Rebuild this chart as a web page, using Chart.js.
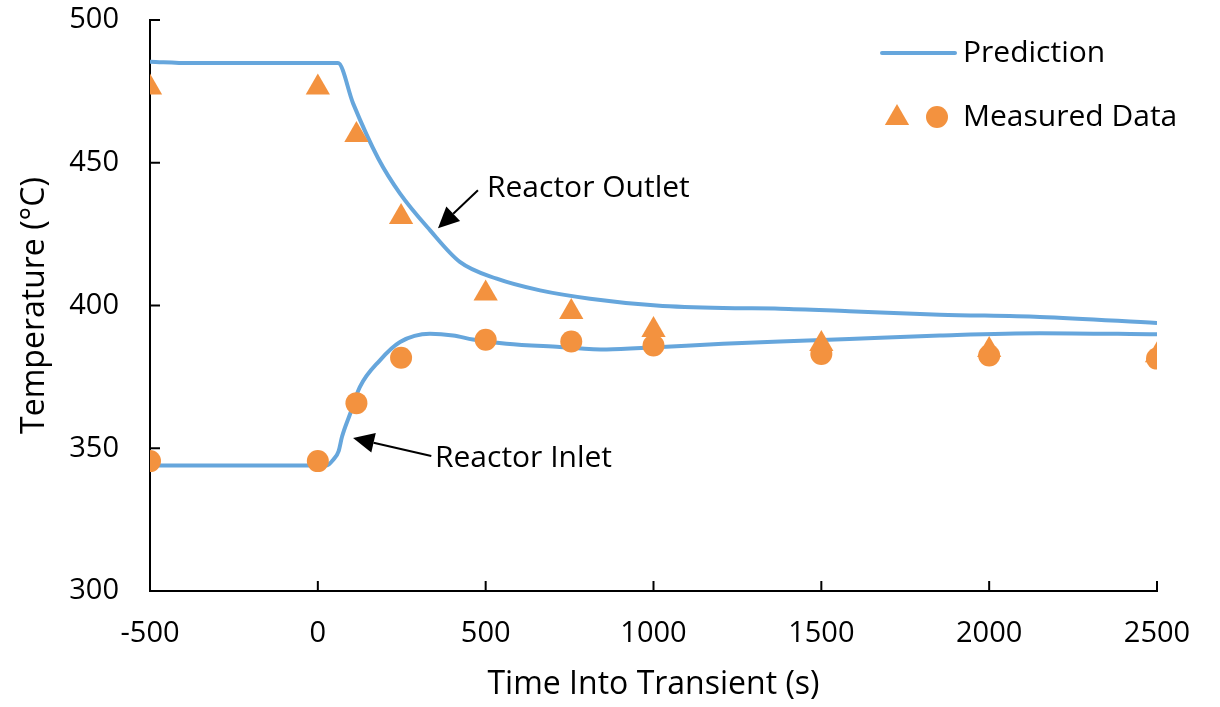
<!DOCTYPE html>
<html>
<head>
<meta charset="utf-8">
<script src="https://cdn.jsdelivr.net/npm/chart.js@4.4.0/dist/chart.umd.min.js"></script>
<style>
  html, body { margin: 0; padding: 0; background: #fff; }
  #wrap { width: 1220px; height: 707px; }
</style>
</head>
<body>
<div id="wrap"><canvas id="grafica"></canvas></div>
<script>
// prediction curves (time s, temperature C)
const outletTime = [-500, -380, 60, 105, 180, 245, 334, 423, 533, 662, 811, 1009, 1207, 1377, 1583, 1853, 2151, 2500];
const outletPred = [485.4, 484.9, 484.9, 470.8, 451.5, 439.2, 426.4, 415.3, 409.4, 405.3, 402.4, 400.0, 399.1, 398.9, 398.0, 396.8, 396.0, 393.9];

const inletTime = [-500, 26, 46, 62, 72, 96, 125, 185, 245, 334, 403, 462, 562, 721, 860, 1009, 1207, 1377, 1583, 1853, 2151, 2500];
const inletPred = [344.0, 344.0, 346.0, 349.0, 354.0, 362.0, 371.4, 380.8, 387.2, 390.1, 389.5, 388.1, 386.6, 385.5, 384.6, 385.4, 386.6, 387.4, 388.3, 389.5, 390.3, 389.9];

// measured points
const measTime = [-500, 0, 115, 248, 500, 755, 1000, 1500, 2000, 2500];
const measOutlet = [476.4, 476.4, 459.7, 431.0, 404.2, 397.7, 391.4, 386.5, 384.4, 382.6];
const measInlet = [345.5, 345.5, 365.8, 381.7, 388.0, 387.4, 386.0, 383.0, 382.5, 381.4];

const xTicks = [-500, 0, 500, 1000, 1500, 2000, 2500];
const yTicks = [300, 350, 400, 450, 500];

// arrows: [tailX, tailY, headX, headY] in data units, label at [x, y]
const notes = [
    { text: 'Reactor Outlet', tx: 504, ty: 441.1, arrow: [477, 440.4, 358, 427.1] },
    { text: 'Reactor Inlet', tx: 349, ty: 346.4, arrow: [338, 347.3, 105, 353.6] }
];

const azul = '#66a6dc';
const naranja = '#f3923f';
const fuente = "'Open Sans', 'Noto Sans', sans-serif";

function pares(xs, ys) {
    return xs.map((x, i) => ({ x: x, y: ys[i] }));
}

const extras = {
    id: 'extras',
    afterDatasetsDraw(chart) {
        const ctx = chart.ctx;
        const xs = chart.scales.x, ys = chart.scales.y;
        ctx.save();
        notes.forEach(n => {
            const x1 = xs.getPixelForValue(n.arrow[0]), y1 = ys.getPixelForValue(n.arrow[1]);
            const x2 = xs.getPixelForValue(n.arrow[2]), y2 = ys.getPixelForValue(n.arrow[3]);
            const ang = Math.atan2(y2 - y1, x2 - x1);
            const largo = 21, ancho = 10;
            const bx = x2 - Math.cos(ang) * largo, by = y2 - Math.sin(ang) * largo;
            ctx.strokeStyle = '#000';
            ctx.lineWidth = 2;
            ctx.beginPath();
            ctx.moveTo(x1, y1);
            ctx.lineTo(bx, by);
            ctx.stroke();
            ctx.fillStyle = '#000';
            ctx.beginPath();
            ctx.moveTo(x2, y2);
            ctx.lineTo(bx + Math.sin(ang) * ancho, by - Math.cos(ang) * ancho);
            ctx.lineTo(bx - Math.sin(ang) * ancho, by + Math.cos(ang) * ancho);
            ctx.closePath();
            ctx.fill();

            ctx.font = '30px ' + fuente;
            ctx.textAlign = 'left';
            ctx.textBaseline = 'middle';
            ctx.fillText(n.text, xs.getPixelForValue(n.tx), ys.getPixelForValue(n.ty));
        });
        ctx.restore();
    },
    afterDraw(chart) {
        const ctx = chart.ctx;
        const area = chart.chartArea;
        const xs = chart.scales.x, ys = chart.scales.y;
        ctx.save();
        // inner tick marks
        ctx.strokeStyle = '#000';
        ctx.lineWidth = 2;
        xTicks.forEach(v => {
            const px = xs.getPixelForValue(v);
            ctx.beginPath();
            ctx.moveTo(px, area.bottom);
            ctx.lineTo(px, area.bottom - 10);
            ctx.stroke();
        });
        yTicks.forEach(v => {
            const py = ys.getPixelForValue(v);
            ctx.beginPath();
            ctx.moveTo(area.left, py);
            ctx.lineTo(area.left + 10, py);
            ctx.stroke();
        });

        // legend
        const lx = area.left + 732;
        ctx.strokeStyle = azul;
        ctx.lineWidth = 4;
        ctx.lineCap = 'round';
        ctx.beginPath();
        ctx.moveTo(lx, 53);
        ctx.lineTo(lx + 73, 53);
        ctx.stroke();

        ctx.fillStyle = naranja;
        const tr = 14;
        ctx.beginPath();
        ctx.moveTo(lx + 15, 118 - tr);
        ctx.lineTo(lx + 15 + tr * 0.866, 118 + tr / 2);
        ctx.lineTo(lx + 15 - tr * 0.866, 118 + tr / 2);
        ctx.closePath();
        ctx.fill();
        ctx.beginPath();
        ctx.arc(lx + 55, 117, 11, 0, Math.PI * 2);
        ctx.fill();

        ctx.fillStyle = '#000';
        ctx.font = '30px ' + fuente;
        ctx.textAlign = 'left';
        ctx.textBaseline = 'middle';
        ctx.fillText('Prediction', lx + 81, 53);
        ctx.fillText('Measured Data', lx + 81, 117);
        ctx.restore();
    }
};

function main() {
    const ctx = document.getElementById('grafica').getContext('2d');

    const config = {
        type: 'scatter',
        data: {
            datasets: [
                {
                    label: 'Measured outlet',
                    data: pares(measTime, measOutlet),
                    pointStyle: 'triangle',
                    pointRadius: 14,
                    backgroundColor: naranja,
                    borderWidth: 0,
                    showLine: false,
                    order: 1
                },
                {
                    label: 'Measured inlet',
                    data: pares(measTime, measInlet),
                    pointStyle: 'circle',
                    pointRadius: 11,
                    backgroundColor: naranja,
                    borderWidth: 0,
                    showLine: false,
                    order: 1
                },
                {
                    label: 'Prediction outlet',
                    data: pares(outletTime, outletPred),
                    showLine: true,
                    borderColor: azul,
                    borderWidth: 4,
                    pointRadius: 0,
                    cubicInterpolationMode: 'monotone',
                    order: 2
                },
                {
                    label: 'Prediction inlet',
                    data: pares(inletTime, inletPred),
                    showLine: true,
                    borderColor: azul,
                    borderWidth: 4,
                    pointRadius: 0,
                    cubicInterpolationMode: 'monotone',
                    order: 2
                }
            ]
        },
        options: {
            responsive: false,
            animation: { duration: 0 },
            layout: { padding: { top: 20, right: 63, left: 0, bottom: 0 } },
            plugins: {
                legend: { display: false },
                tooltip: { enabled: false }
            },
            scales: {
                x: {
                    type: 'linear',
                    min: -500,
                    max: 2500,
                    afterBuildTicks: s => { s.ticks = xTicks.map(v => ({ value: v })); },
                    afterFit: s => { s.height = 116; s.paddingLeft = 0; s.paddingRight = 0; },
                    grid: { display: false, drawTicks: false },
                    border: { display: true, color: '#000', width: 2 },
                    ticks: {
                        color: '#000', padding: 25, maxRotation: 0,
                        font: { family: fuente, size: 29 },
                        callback: v => String(v)
                    },
                    title: {
                        display: true,
                        text: 'Time Into Transient (s)',
                        color: '#000',
                        font: { family: fuente, size: 32 },
                        padding: { top: 0, bottom: 3 }
                    }
                },
                y: {
                    type: 'linear',
                    min: 300,
                    max: 500,
                    afterBuildTicks: s => { s.ticks = yTicks.map(v => ({ value: v })); },
                    afterFit: s => { s.width = 150; s.paddingTop = 0; s.paddingBottom = 0; },
                    grid: { display: false, drawTicks: false },
                    border: { display: true, color: '#000', width: 2 },
                    ticks: {
                        color: '#000', padding: 31,
                        font: { family: fuente, size: 29 },
                        callback: v => String(v)
                    },
                    title: {
                        display: true,
                        text: 'Temperature (°C)',
                        color: '#000',
                        font: { family: fuente, size: 32 },
                        padding: { top: 16, bottom: 0 }
                    }
                }
            }
        },
        plugins: [extras]
    };

    const canvas = document.getElementById('grafica');
    canvas.width = 1220;
    canvas.height = 707;
    window.miGrafica = new Chart(ctx, config);
}

document.addEventListener('DOMContentLoaded', function() {
    main();
});
</script>
</body>
</html>
